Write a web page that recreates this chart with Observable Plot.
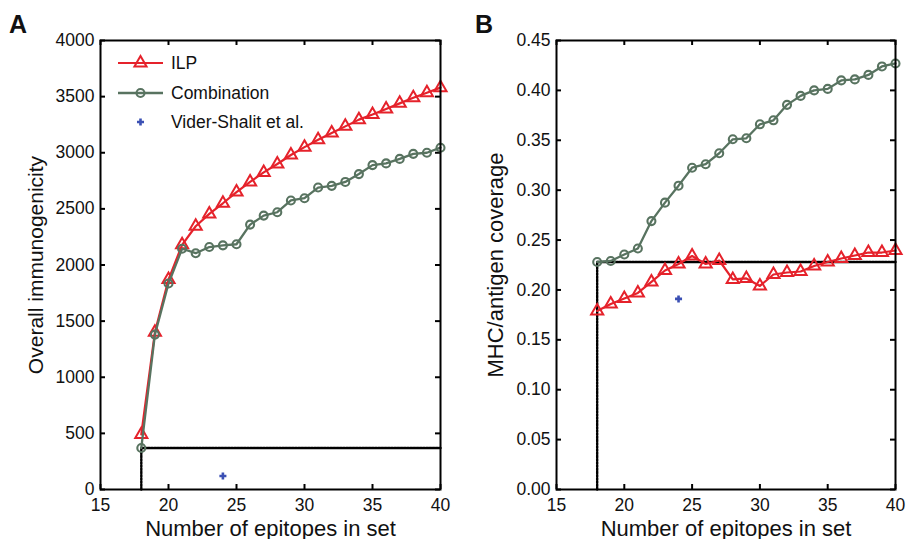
<!DOCTYPE html>
<html><head><meta charset="utf-8">
<script src="https://cdn.jsdelivr.net/npm/d3@7"></script>
<script src="https://cdn.jsdelivr.net/npm/@observablehq/plot@0.6"></script>
<style>
body{margin:0;background:#fff;font-family:"Liberation Sans",Arial,sans-serif}
#wrap{position:relative;width:907px;height:539px;overflow:hidden;background:#fff}
.panel{position:absolute;top:0}
.panel svg{overflow:visible}
#overlay{position:absolute;left:0;top:0;pointer-events:none}
</style></head>
<body><div id="wrap"></div>
<script>
// ---- data ----
const epitopes = [18,19,20,21,22,23,24,25,26,27,28,29,30,31,32,33,34,35,36,37,38,39,40];
const ilpImmuno  = [490,1400,1870,2180,2345,2455,2550,2650,2740,2825,2900,2980,3050,3115,3175,3235,3295,3340,3390,3440,3490,3535,3580];
const combImmuno = [370,1380,1835,2145,2105,2160,2175,2185,2360,2440,2470,2575,2595,2690,2705,2740,2810,2890,2905,2945,2990,3000,3045];
const ilpCover   = [0.179,0.186,0.1915,0.197,0.208,0.2195,0.226,0.234,0.226,0.2295,0.2105,0.2115,0.204,0.2155,0.2175,0.2185,0.224,0.228,0.2315,0.2345,0.2375,0.2375,0.2395];
const combCover  = [0.228,0.229,0.2355,0.2415,0.269,0.2875,0.3045,0.3225,0.326,0.337,0.351,0.352,0.366,0.370,0.3855,0.3945,0.400,0.4015,0.410,0.411,0.4155,0.424,0.427];
const viderX = [24];
const viderImmuno = [120];
const viderCover = [0.191];
const xTicks = [15,20,25,30,35,40];
const yTicksA = [0,500,1000,1500,2000,2500,3000,3500,4000];
const yTicksB = [0,0.05,0.10,0.15,0.20,0.25,0.30,0.35,0.40,0.45];
const seriesNames = ["ILP","Combination","Vider-Shalit et al."];
const xTitle = "Number of epitopes in set";
const yTitleA = "Overall immunogenicity";
const yTitleB = "MHC/antigen coverage";

const RED = "#e5222b", GREEN = "#587360", BLUE = "#3b50b4";
const FONT = "Liberation Sans, Arial, sans-serif";

function panel({ilp, comb, vider, yDomain, yTicks, yFormat, yTitle, titleDx, titleSize, marginLeft, marginRight, width}) {
  const H = 539, mt = 40, mb = 50;
  const innerH = H - mt - mb;
  const innerW = width - marginLeft - marginRight;
  const rows = epitopes.map((e, i) => ({x: e, ilp: ilp[i], comb: comb[i]}));
  const base = comb[0];
  const guide = [
    {x: epitopes[0], y: yDomain[0]},
    {x: epitopes[0], y: base},
    {x: epitopes[epitopes.length - 1], y: base}
  ];
  const vRows = viderX.map((x, i) => ({x, y: vider[i]}));
  return Plot.plot({
    width, height: H, marginLeft, marginRight, marginTop: mt, marginBottom: mb,
    style: {fontFamily: FONT, background: "transparent", overflow: "visible"},
    x: {domain: [15, 40]},
    y: {domain: yDomain},
    marks: [
      Plot.axisX({ticks: xTicks, tickSize: 0, tickPadding: 9, fontSize: 17.5, label: null, fill: "#111"}),
      Plot.axisY({ticks: yTicks, tickSize: 0, tickPadding: 6, fontSize: 17.5, label: null, tickFormat: yFormat, fill: "#111"}),
      // inward ticks on all four sides
      Plot.ruleX(xTicks, {x: d => d, insetTop: innerH - 5, stroke: "black", strokeWidth: 2}),
      Plot.ruleX(xTicks, {x: d => d, insetBottom: innerH - 5, stroke: "black", strokeWidth: 2}),
      Plot.ruleY(yTicks, {y: d => d, insetRight: innerW - 5, stroke: "black", strokeWidth: 2}),
      Plot.ruleY(yTicks, {y: d => d, insetLeft: innerW - 5, stroke: "black", strokeWidth: 2}),
      Plot.line(guide, {x: "x", y: "y", stroke: "#000", strokeWidth: 2.4, strokeDasharray: "2,1.2", curve: "linear"}),
      Plot.line(rows, {x: "x", y: "ilp", stroke: RED, strokeWidth: 2.2}),
      Plot.dot(rows, {x: "x", y: "ilp", symbol: "triangle", r: 4.5, stroke: RED, strokeWidth: 2, fill: "none"}),
      Plot.line(rows, {x: "x", y: "comb", stroke: GREEN, strokeWidth: 2.3}),
      Plot.dot(rows, {x: "x", y: "comb", symbol: "circle", r: 4, stroke: GREEN, strokeWidth: 2.1, fill: "none"}),
      Plot.dot(vRows, {x: "x", y: "y", symbol: "plus", r: 2.4, stroke: BLUE, strokeWidth: 2.6}),
      Plot.frame({stroke: "black", strokeWidth: 2}),
      Plot.text([xTitle], {frameAnchor: "bottom", textAnchor: "middle", lineAnchor: "bottom", dy: 46, fontSize: 22, fill: "#111"}),
      Plot.text([yTitle], {frameAnchor: "left", textAnchor: "middle", lineAnchor: "bottom", rotate: -90, dx: titleDx, fontSize: titleSize, fill: "#111"})
    ]
  });
}

const wrap = document.getElementById("wrap");
const pA = panel({ilp: ilpImmuno, comb: combImmuno, vider: viderImmuno, yDomain: [0, 4000], yTicks: yTicksA,
  yFormat: d => String(d), yTitle: yTitleA, titleDx: -57.5, titleSize: 21, marginLeft: 100, marginRight: 13, width: 453});
const dA = document.createElement("div"); dA.className = "panel"; dA.style.left = "0px"; dA.appendChild(pA); wrap.appendChild(dA);

const pB = panel({ilp: ilpCover, comb: combCover, vider: viderCover, yDomain: [0, 0.45], yTicks: yTicksB,
  yFormat: d => d.toFixed(2), yTitle: yTitleB, titleDx: -54, titleSize: 22, marginLeft: 103, marginRight: 12, width: 454});
const dB = document.createElement("div"); dB.className = "panel"; dB.style.left = "453px"; dB.appendChild(pB); wrap.appendChild(dB);

// panel letters and legend (real text)
const NS = "http://www.w3.org/2000/svg";
const ov = document.createElementNS(NS, "svg");
ov.setAttribute("id", "overlay"); ov.setAttribute("width", 907); ov.setAttribute("height", 539);
ov.setAttribute("font-family", FONT);
function el(tag, attrs, text) {
  const e = document.createElementNS(NS, tag);
  for (const k in attrs) e.setAttribute(k, attrs[k]);
  if (text != null) e.textContent = text;
  ov.appendChild(e); return e;
}
el("text", {x: 9, y: 33, "font-size": 25, "font-weight": "bold", fill: "#111"}, "A");
el("text", {x: 475, y: 33, "font-size": 25, "font-weight": "bold", fill: "#111"}, "B");
// legend
const lx0 = 118, lx1 = 163, lxm = 140.5, tx = 171;
const ly = [63, 93, 122];
el("line", {x1: lx0, x2: lx1, y1: ly[0], y2: ly[0], stroke: RED, "stroke-width": 2.2});
el("path", {d: d3.symbol(d3.symbolTriangle, Math.PI * 4.5 * 4.5)(), transform: `translate(${lxm},${ly[0]})`, stroke: RED, "stroke-width": 2, fill: "none"});
el("line", {x1: lx0, x2: lx1, y1: ly[1], y2: ly[1], stroke: GREEN, "stroke-width": 2.3});
el("circle", {cx: lxm, cy: ly[1], r: 4, stroke: GREEN, "stroke-width": 2.1, fill: "none"});
el("path", {d: d3.symbol(d3.symbolPlus, Math.PI * 2.4 * 2.4)(), transform: `translate(${lxm},${ly[2]})`, stroke: BLUE, "stroke-width": 2.6, fill: "none"});
seriesNames.forEach((n, i) => el("text", {x: tx, y: ly[i], dy: "0.35em", "font-size": 17.5, fill: "#111"}, n));
wrap.appendChild(ov);
</script>
</body></html>
